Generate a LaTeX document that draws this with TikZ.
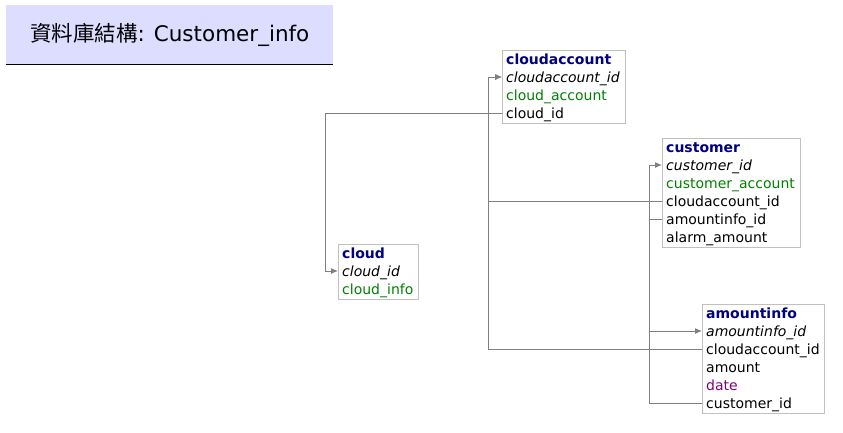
\documentclass[tikz,border=0pt]{standalone}
\usepackage{fontspec}
\setmainfont{DejaVu Sans}
\newfontfamily\cjk{Noto Sans CJK TC}
\usetikzlibrary{positioning,arrows.meta}
\definecolor{titlebg}{RGB}{221,221,255}
\definecolor{hdrnavy}{RGB}{0,0,128}
\definecolor{keygreen}{RGB}{0,128,0}
\definecolor{datepurple}{RGB}{128,0,128}
\definecolor{tblgray}{RGB}{192,192,192}
\definecolor{linkgray}{RGB}{128,128,128}
\tikzset{
  tbl/.style={draw=tblgray, line width=1pt, anchor=north west, inner sep=0pt},
  field/.style={anchor=west, inner xsep=4pt, inner ysep=0pt, text height=13.5pt, text depth=2.5pt,
    font=\fontsize{14}{18}\selectfont},
  hdr/.style={field, text=hdrnavy, font=\fontsize{14}{18}\selectfont\bfseries},
  pk/.style={field, font=\fontsize{14}{18}\selectfont\itshape},
  uq/.style={field, text=keygreen},
  fk/.style={draw=linkgray, line width=1pt, -{Latex[length=7pt,width=6pt]}},
}

\begin{document}
\begin{tikzpicture}[x=1pt, y=-1pt]
    \useasboundingbox (0,0) rectangle (843,432);

    % Title
    \node[anchor=north west, fill=titlebg, minimum width=327pt, minimum height=59pt, inner sep=0pt,
          font=\fontsize{21.5}{24}\selectfont] (title) at (6,5) {{\cjk 資料庫結構}: Customer\_info};
    \draw[line width=1pt] (title.south west) -- (title.south east);

    % Tables
    \node[tbl, minimum width=123pt, minimum height=73pt] (cloudaccount) at (502,50) {};
    \node[hdr] (ca-name) at (502,59) {cloudaccount};
    \node[pk] (ca-id) at (502,77) {cloudaccount\_id};
    \node[uq] (ca-acc) at (502,95) {cloud\_account};
    \node[field] (ca-cloudid) at (502,113) {cloud\_id};

    \node[tbl, minimum width=138pt, minimum height=109pt] (customer) at (662,138) {};
    \node[hdr] (cu-name) at (662,147) {customer};
    \node[pk] (cu-id) at (662,165) {customer\_id};
    \node[uq] (cu-acc) at (662,183) {customer\_account};
    \node[field] (cu-caid) at (662,201) {cloudaccount\_id};
    \node[field] (cu-amid) at (662,219) {amountinfo\_id};
    \node[field] (cu-alarm) at (662,237) {alarm\_amount};

    \node[tbl, minimum width=80pt, minimum height=55pt] (cloud) at (338,244) {};
    \node[hdr] (cl-name) at (338,253) {cloud};
    \node[pk] (cl-id) at (338,271) {cloud\_id};
    \node[uq] (cl-info) at (338,289) {cloud\_info};

    \node[tbl, minimum width=122pt, minimum height=109pt] (amountinfo) at (702,304) {};
    \node[hdr] (am-name) at (702,313) {amountinfo};
    \node[pk] (am-id) at (702,331) {amountinfo\_id};
    \node[field] (am-caid) at (702,349) {cloudaccount\_id};
    \node[field] (am-amount) at (702,367) {amount};
    \node[field, text=datepurple] (am-date) at (702,385) {date};
    \node[field] (am-cuid) at (702,403) {customer\_id};

    % Links
    \draw[fk] (ca-cloudid.west) -- ++(-177,0) |- (cl-id.west);
    \draw[fk] (cu-caid.west) -- ++(-174,0) |- (ca-id.west);
    \draw[fk] (am-caid.west) -- ++(-214,0) |- (ca-id.west);
    \draw[fk] (cu-amid.west) -- ++(-13,0) |- (am-id.west);
    \draw[fk] (am-cuid.west) -- ++(-53,0) |- (cu-id.west);
\end{tikzpicture}
\end{document}
